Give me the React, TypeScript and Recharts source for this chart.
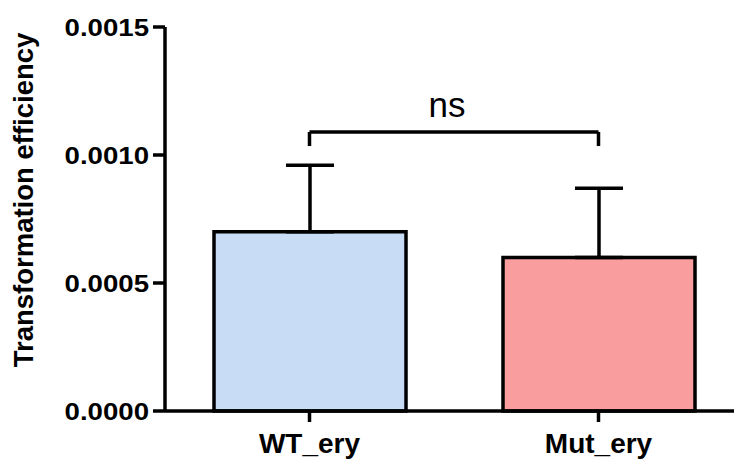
import { BarChart, Bar, Cell, XAxis, YAxis, ErrorBar, ReferenceLine } from "recharts";

const groups = ["WT_ery", "Mut_ery"];
const means = [0.0007, 0.0006];
const sems = [0.00026, 0.00027];
const barColors = ["#C8DCF5", "#F99D9E"];
const yTicks = [0, 0.0005, 0.001, 0.0015];
const bracketY = 0.00109;
const bracketLegY = 0.001035;
const sigLabel = "ns";

const FONT = '"Liberation Sans", Arial, sans-serif';

const data = groups.map((name, i) => ({
  name,
  value: means[i],
  err: [0, sems[i]],
}));

function YTick(props: any) {
  const { x, y, payload } = props;
  return (
    <text
      transform={`translate(${x},${y}) scale(1.15,1)`}
      textAnchor="end"
      dy="0.36em"
      fontFamily={FONT}
      fontWeight="bold"
      fontSize={24}
      fill="#000"
    >
      {Number(payload.value).toFixed(4)}
    </text>
  );
}

function XTick(props: any) {
  const { x, y, payload } = props;
  return (
    <text x={x} y={y + 31} textAnchor="middle" fontFamily={FONT} fontWeight="bold" fontSize={28} fill="#000">
      {payload.value}
    </text>
  );
}

export default function App() {
  return (
    <div style={{ position: "absolute", left: 0, top: 0, width: 734, height: 460, overflow: "hidden", background: "#fff" }}>
      <BarChart width={750} height={460} data={data} margin={{ top: 27, right: 7, left: 0, bottom: 0 }}>
        <XAxis
          dataKey="name"
          height={49}
          axisLine={{ stroke: "#000", strokeWidth: 3.5 }}
          tickLine={{ stroke: "#000", strokeWidth: 3.5 }}
          tickSize={11}
          tickMargin={0}
          tick={<XTick />}
        />
        <YAxis
          width={165}
          domain={[0, 0.0015]}
          ticks={yTicks}
          interval={0}
          axisLine={{ stroke: "#000", strokeWidth: 3.5 }}
          tickLine={{ stroke: "#000", strokeWidth: 3.5 }}
          tickSize={12}
          tickMargin={4}
          tick={<YTick />}
          label={{
            content: (p: any) => {
              const vb = p.viewBox;
              const cy = vb.y + vb.height / 2 - 19;
              return (
                <text
                  x={33}
                  y={cy}
                  transform={`rotate(-90, 33, ${cy})`}
                  textAnchor="middle"
                  fontFamily={FONT}
                  fontWeight="bold"
                  fontSize={27.5}
                  fill="#000"
                >
                  Transformation efficiency
                </text>
              );
            },
          }}
        />
        <Bar dataKey="value" barSize={192} stroke="#000" strokeWidth={3.5} isAnimationActive={false}>
          {data.map((d, i) => (
            <Cell key={d.name} fill={barColors[i]} />
          ))}
          <ErrorBar dataKey="err" direction="y" width={24} stroke="#000" strokeWidth={3.5} isAnimationActive={false} />
        </Bar>
        <ReferenceLine
          segment={[
            { x: groups[0], y: bracketY },
            { x: groups[1], y: bracketY },
          ]}
          stroke="#000"
          strokeWidth={3.5}
          label={{
            content: (p: any) => {
              const vb = p.viewBox;
              return (
                <text x={vb.x + vb.width / 2 - 7} y={vb.y - 15} textAnchor="middle" fontFamily={FONT} fontSize={35} fill="#000">
                  {sigLabel}
                </text>
              );
            },
          }}
        />
        <ReferenceLine
          segment={[
            { x: groups[0], y: bracketY },
            { x: groups[0], y: bracketLegY },
          ]}
          stroke="#000"
          strokeWidth={3.5}
        />
        <ReferenceLine
          segment={[
            { x: groups[1], y: bracketY },
            { x: groups[1], y: bracketLegY },
          ]}
          stroke="#000"
          strokeWidth={3.5}
        />
      </BarChart>
    </div>
  );
}
